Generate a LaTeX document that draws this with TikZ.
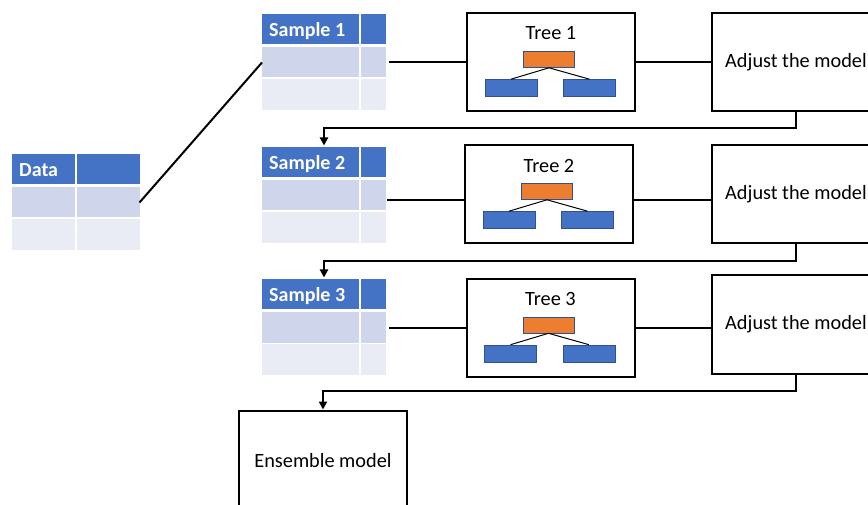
\documentclass[tikz,border=0pt]{standalone}
\usepackage{fontspec}
\setmainfont{Carlito}
\usetikzlibrary{arrows.meta,calc}

\definecolor{hdr}{HTML}{4472C4}
\definecolor{rowa}{HTML}{CFD5EA}
\definecolor{rowb}{HTML}{E9EBF5}
\definecolor{leaf}{HTML}{4472C4}
\definecolor{root}{HTML}{ED7D31}
\definecolor{edge}{HTML}{2F528F}

\tikzset{
  cell/.style={anchor=north west, inner sep=0pt, outer sep=0pt, draw=none},
  headtext/.style={anchor=base west, inner sep=0pt, text=white,
    font=\bfseries\fontsize{20}{24}\selectfont},
  stage/.style={draw=black, line width=2pt, minimum width=168pt,
    minimum height=98pt, inner sep=0pt, outer sep=0pt,
    font=\fontsize{20.3}{24}\selectfont},
  treelabel/.style={inner sep=0pt, font=\fontsize{20.3}{24}\selectfont},
  rootbox/.style={fill=root, draw=edge, line width=0.6pt,
    minimum width=51pt, minimum height=16pt, inner sep=0pt},
  leafbox/.style={fill=leaf, draw=edge, line width=0.6pt,
    minimum width=52pt, minimum height=17pt, inner sep=0pt},
  branch/.style={draw=black, line width=1pt},
  link/.style={draw=black, line width=2pt},
  feed/.style={link, -{Triangle[length=8pt,width=8pt]}, shorten >=1.5pt},
}

% three-row table: name, left x, top y, header text, left width, right width
\newcommand\mktable[6]{%
  \node[cell,fill=hdr,minimum width=#5pt,minimum height=30pt] (#1-h) at (#2,#3) {};
  \node[cell,fill=hdr,minimum width=#6pt,minimum height=30pt] (#1-hr) at ([xshift=1.5pt]#1-h.north east) {};
  \node[cell,fill=rowa,minimum width=#5pt,minimum height=30pt] (#1-a) at ([yshift=-3.5pt]#1-h.south west) {};
  \node[cell,fill=rowa,minimum width=#6pt,minimum height=30pt] (#1-ar) at ([xshift=1.5pt]#1-a.north east) {};
  \node[cell,fill=rowb,minimum width=#5pt,minimum height=31pt] (#1-b) at ([yshift=-1.5pt]#1-a.south west) {};
  \node[cell,fill=rowb,minimum width=#6pt,minimum height=31pt] (#1-br) at ([xshift=1.5pt]#1-b.north east) {};
  \node[headtext] (#1-t) at ([xshift=7pt,yshift=-7.5pt]#1-h.west) {#4};
  \coordinate (#1-top) at ($(#1-h.north west)!0.5!(#1-hr.north east)$);
}

% decision-tree box: name, centre x, centre y, caption
\newcommand\mktree[4]{%
  \node[stage] (#1) at (#2,#3) {};
  \node[treelabel] (#1-t) at ([yshift=29pt]#1.center) {#4};
  \node[rootbox] (#1-r) at ([xshift=-2pt,yshift=3pt]#1.center) {};
  \node[leafbox] (#1-l) at ([xshift=-40pt,yshift=-25.5pt]#1.center) {};
  \node[leafbox] (#1-rr) at ([xshift=38.5pt,yshift=-25.5pt]#1.center) {};
  \draw[branch] (#1-r.south) -- (#1-l.north);
  \draw[branch] (#1-r.south) -- (#1-rr.north);
}

\begin{document}
\begin{tikzpicture}[x=1pt,y=-1pt]
  \useasboundingbox (0,0) rectangle (868,505);
  \clip (0,0) rectangle (868,505);

  % source data and the three samples
  \mktable{data}{12}{154}{Data}{63}{63}
  \mktable{s1}{262}{14}{Sample 1}{97}{25.5}
  \mktable{s2}{262}{147}{Sample 2}{97}{25.5}
  \mktable{s3}{262}{279}{Sample 3}{97}{25.5}

  % trees
  \mktree{tree1}{551}{62.5}{Tree 1}
  \mktree{tree2}{549}{194.5}{Tree 2}
  \mktree{tree3}{550.5}{328}{Tree 3}

  % model adjustment steps
  \node[stage] (adj1) at (796,62.5) {Adjust the model};
  \node[stage] (adj2) at (796,194.5) {Adjust the model};
  \node[stage] (adj3) at (796,324.5) {Adjust the model};

  % final result
  \node[stage,minimum height=100pt] (ens) at (323,461) {Ensemble model};

  % data to first sample
  \draw[link] (data-ar.east) -- (s1-a.west);

  % sample -> tree -> adjustment, row by row
  \draw[link, shorten <=3pt] (s1-ar.east) -- (s1-ar.east -| tree1.west);
  \draw[link] (tree1.east) -- (adj1.west);

  \draw[link, shorten <=1pt] ([yshift=-5pt]s2-ar.east) coordinate (l2) -- (l2 -| tree2.west);
  \draw[link] (tree2.east |- l2) -- (l2 -| adj2.west);

  \draw[link, shorten <=3pt] (s3-ar.east) -- (s3-ar.east -| tree3.west);
  \draw[link] (tree3.east) -- (tree3.east -| adj3.west);

  % feedback into the next sample
  \draw[feed] (adj1.south) -- ++(0,17) -| (s2-top);
  \draw[feed] (adj2.south) -- ++(0,17.5) -| (s3-top);
  \draw[feed] (adj3.south) -- ++(0,17) -| (ens.north);
\end{tikzpicture}
\end{document}
